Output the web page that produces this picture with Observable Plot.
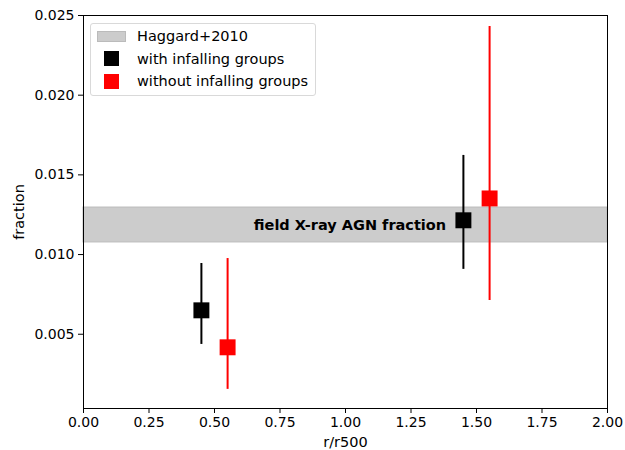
<!DOCTYPE html>
<html>
<head>
<meta charset="utf-8">
<script src="https://cdn.jsdelivr.net/npm/d3@7"></script>
<script src="https://cdn.jsdelivr.net/npm/@observablehq/plot@0.6"></script>
<style>
  html, body { margin: 0; padding: 0; background: #fff; }
  #wrap { position: relative; width: 625px; height: 450px; font-family: "DejaVu Sans", sans-serif; }
  #legend { position: absolute; left: 90px; top: 23px; width: 226px; box-sizing: border-box; border: 1px solid #d9d9d9; border-radius: 3px; background: rgba(255,255,255,0.8); padding: 1px 4px 2px 5px; font-size: 14.5px; color: #000; }
  .row { display: flex; align-items: center; height: 22.5px; }
  .sw { width: 30px; display: flex; justify-content: center; margin-right: 11px; }
</style>
</head>
<body>
<div id="wrap"></div>
<script>
// Data
const seriesNames = ["with infalling groups", "without infalling groups"];
const seriesColors = ["black", "red"];
const withX = [0.45, 1.45];
const withY = [0.0065, 0.01215];
const withLo = [0.00436, 0.00907];
const withHi = [0.00944, 0.01622];
const withoutX = [0.55, 1.55];
const withoutY = [0.00418, 0.01352];
const withoutLo = [0.00154, 0.00712];
const withoutHi = [0.00975, 0.02431];
const bandLabel = "Haggard+2010";
const bandLo = 0.01076;
const bandHi = 0.01295;
const bandText = "field X-ray AGN fraction";
const bandTextX = 0.65;
const xTicks = [0, 0.25, 0.5, 0.75, 1, 1.25, 1.5, 1.75, 2];
const yTicks = [0.005, 0.010, 0.015, 0.020, 0.025];

const pts = [];
withX.forEach((x, i) => pts.push({x, y: withY[i], lo: withLo[i], hi: withHi[i], s: seriesNames[0]}));
withoutX.forEach((x, i) => pts.push({x, y: withoutY[i], lo: withoutLo[i], hi: withoutHi[i], s: seriesNames[1]}));

const chart = Plot.plot({
  width: 625,
  height: 450,
  marginLeft: 83,
  marginRight: 18,
  marginTop: 15,
  marginBottom: 42,
  style: {fontFamily: "DejaVu Sans, sans-serif", fontSize: "14px", color: "#000", background: "#fff"},
  x: {domain: [0, 2], ticks: xTicks, tickFormat: d3.format(".2f"), label: "r/r500", labelArrow: "none", labelAnchor: "center", labelOffset: 38, tickSize: 5, tickPadding: 4},
  y: {domain: [0.00034, 0.025], ticks: yTicks, tickFormat: d3.format(".3f"), label: "fraction", labelAnchor: "center", labelOffset: 70, labelArrow: "none", tickSize: 5, tickPadding: 4},
  color: {domain: seriesNames, range: seriesColors},
  marks: [
    Plot.rect([{lo: bandLo, hi: bandHi}], {x1: 0, x2: 2, y1: "lo", y2: "hi", fill: "#cccccc", stroke: "#bbbbbb", strokeWidth: 1}),
    Plot.text([{x: bandTextX, y: (bandLo + bandHi) / 2}], {x: "x", y: "y", text: () => bandText, textAnchor: "start", fontWeight: "bold", fontSize: 14.5, fill: "#000"}),
    Plot.ruleX(pts, {x: "x", y1: "lo", y2: "hi", stroke: "s", strokeWidth: 2}),
    Plot.dot(pts, {x: "x", y: "y", fill: "s", symbol: "square", r: 9}),
    Plot.frame({stroke: "#000", strokeWidth: 1})
  ]
});
chart.querySelectorAll('[aria-label="x-axis label"], [aria-label="y-axis label"]').forEach(g => g.setAttribute("font-size", "14.5"));
document.getElementById("wrap").appendChild(chart);

const leg = document.createElement("div");
leg.id = "legend";
const items = [
  {label: bandLabel, html: '<div style="width:29px;height:11px;background:#cccccc;border:1px solid #bbb;box-sizing:border-box"></div>'},
  {label: seriesNames[0], html: `<div style="width:15px;height:15px;background:${seriesColors[0]}"></div>`},
  {label: seriesNames[1], html: `<div style="width:15px;height:15px;background:${seriesColors[1]}"></div>`}
];
items.forEach(it => {
  const r = document.createElement("div");
  r.className = "row";
  r.innerHTML = `<div class="sw">${it.html}</div><span>${it.label}</span>`;
  leg.appendChild(r);
});
document.getElementById("wrap").appendChild(leg);
</script>
</body>
</html>
